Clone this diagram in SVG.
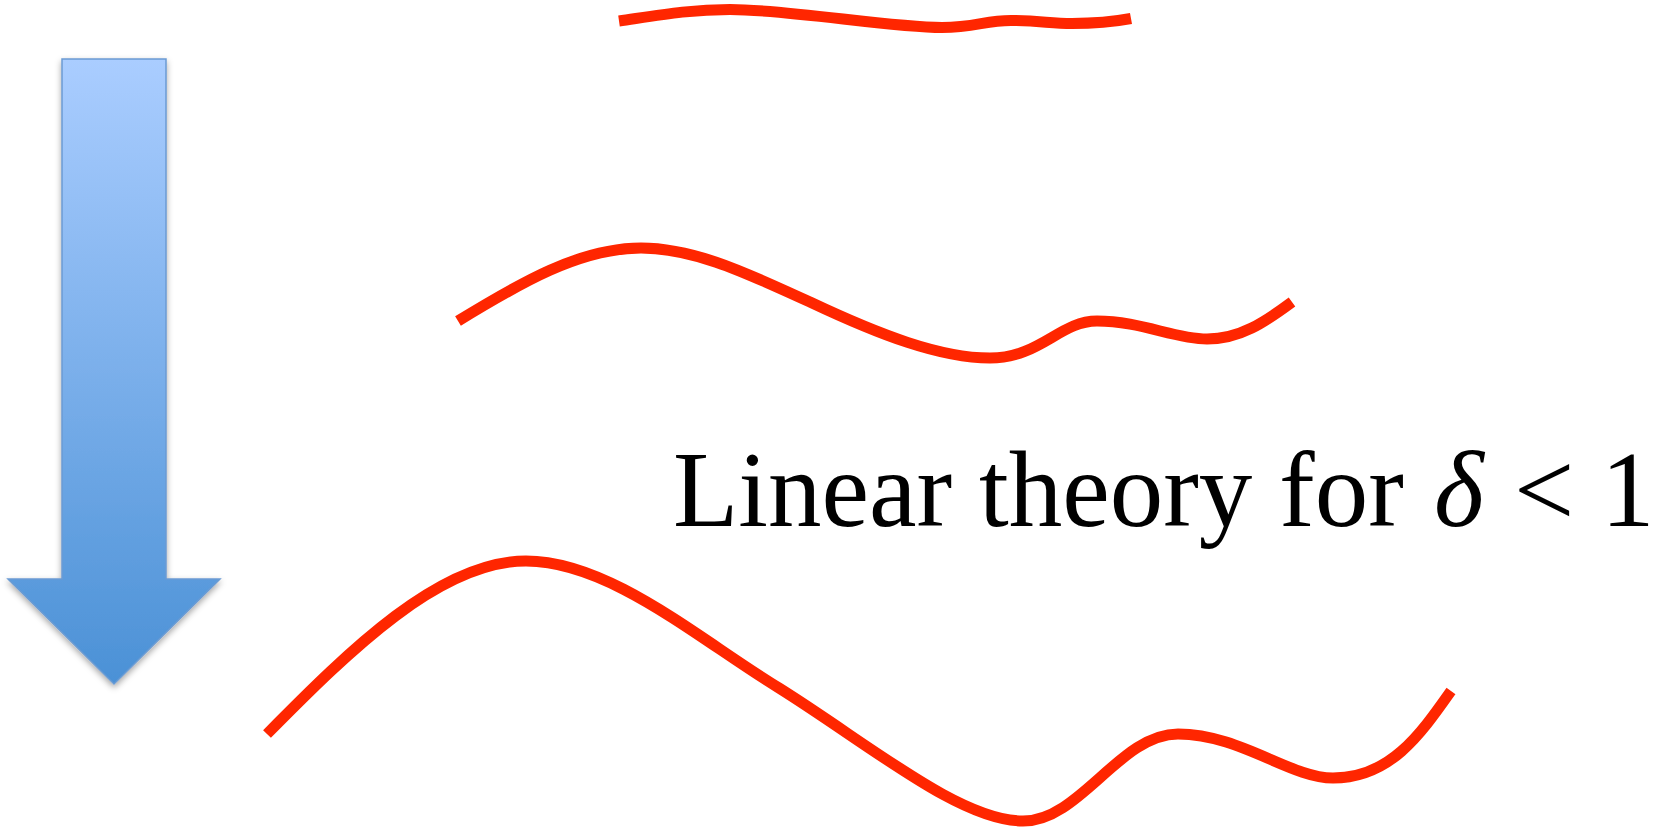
<svg xmlns="http://www.w3.org/2000/svg" width="1661" height="830" viewBox="0 0 1661 830">
<defs>
<linearGradient id="arrowGrad" x1="0" y1="0" x2="0" y2="1">
<stop offset="0" stop-color="#AACDFF"/>
<stop offset="1" stop-color="#4B91D6"/>
</linearGradient>
<filter id="shadow" x="-20%" y="-10%" width="140%" height="130%">
<feDropShadow dx="0" dy="3" stdDeviation="3" flood-color="#000" flood-opacity="0.35"/>
</filter>
<style>
.wave{fill:none;stroke:#FF2600;stroke-width:11;stroke-linecap:butt;stroke-linejoin:round}
.label{font-family:"Liberation Serif","Times New Roman",serif;font-size:107px;fill:#000}
</style>
</defs>
<rect width="1661" height="830" fill="#fff"/>
<g id="arrow">
<path d="M 62 59 H 166 V 579 H 220 L 114 684 L 8 579 H 62 Z" fill="url(#arrowGrad)" stroke="#6B9BD3" stroke-width="1.5" filter="url(#shadow)"/>
</g>
<g id="connectors">
<path id="wave-top" class="wave" d="M 619 21 C 660 15, 690 9.5, 730 9.5 C 790 9.5, 890 27.5, 942 27.5 C 975 27.5, 985 20.5, 1011 20.5 C 1040 20.5, 1050 23.5, 1072 23.5 C 1095 23.5, 1115 21.5, 1131 18.5"/>
<path id="wave-middle" class="wave" d="M 458 321 C 520 283, 580 248, 641 248 C 700 248, 760 280, 810 302 C 880 335, 940 358, 990 358 C 1040 358, 1060 321, 1097 321 C 1140 321, 1175 339, 1207 339 C 1240 339, 1265 322, 1292 302"/>
<path id="wave-bottom" class="wave" d="M 267 734 C 350 650, 440 561, 526 561 C 610 561, 700 640, 779 688 C 870 745, 960 821, 1023 821 C 1080 821, 1120 734, 1178 734 C 1240 734, 1290 778, 1333 778 C 1390 778, 1420 735, 1451 691"/>
</g>
<g id="label">
<text class="label" x="673" y="526">Linear theory for <tspan x="1434" font-style="italic">δ</tspan><tspan x="1514">&lt;</tspan><tspan x="1601">1</tspan></text>
</g>
</svg>
